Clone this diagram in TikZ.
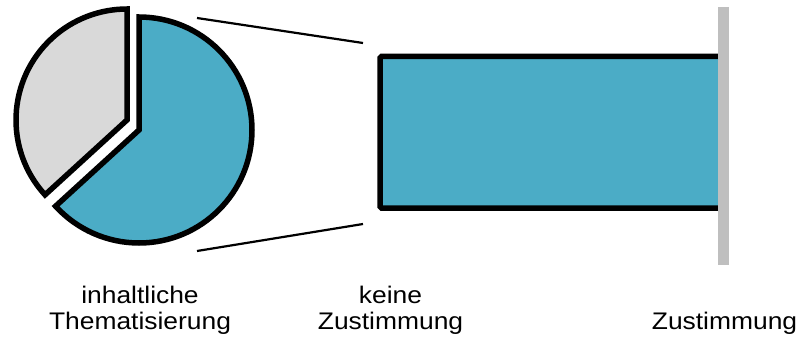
\documentclass[tikz,border=0pt]{standalone}
\usepackage{fontspec}
\setmainfont[FakeStretch=1.1]{Liberation Sans}
\definecolor{pieblue}{HTML}{4BACC6}
\definecolor{piegrey}{HTML}{D9D9D9}
\definecolor{edgegrey}{HTML}{BFBFBF}
\begin{document}
\begin{tikzpicture}[x=1pt,y=-1pt,
  slice/.style={draw=black,line width=5.5pt},
  zoomline/.style={draw=black,line width=2.2pt},
  lbl/.style={font=\fontsize{24}{26.5}\selectfont,align=center,inner sep=0pt,anchor=south}]
\useasboundingbox (0,0) rectangle (798,342);
% pie
\coordinate (ga) at (127,120);
\coordinate (ba) at (139,130);
\path[slice,fill=piegrey] (ga) -- ++(137.6:111) arc[start angle=137.6,end angle=270,radius=111] -- cycle;
\path[slice,fill=pieblue] (ba) -- ++(270:113) arc[start angle=-90,end angle=137.6,radius=113] -- cycle;
% bar
\node[draw=black,line width=5.5pt,fill=pieblue,rounded corners=1.5pt,minimum width=342pt,minimum height=151.5pt,inner sep=0pt] (bar) at (551,132.25) {};
% grey limit line
\coordinate (gt) at (723.5,7);
\coordinate (gb) at (723.5,265);
\draw[edgegrey,line width=11pt] (gt) -- (gb);
% zoom lines
\coordinate (zt1) at (197,18);
\coordinate (zt2) at (363,43);
\coordinate (zb1) at (197,251);
\coordinate (zb2) at (363,224);
\draw[zoomline] (zt1) -- (zt2);
\draw[zoomline] (zb1) -- (zb2);
% labels
\node[lbl] (l1) at (140,335) {inhaltliche\\Thematisierung};
\node[lbl] (l2) at (390.5,335) {keine\\Zustimmung};
\node[lbl] (l3) at (724.5,335) {Zustimmung};
\end{tikzpicture}
\end{document}
